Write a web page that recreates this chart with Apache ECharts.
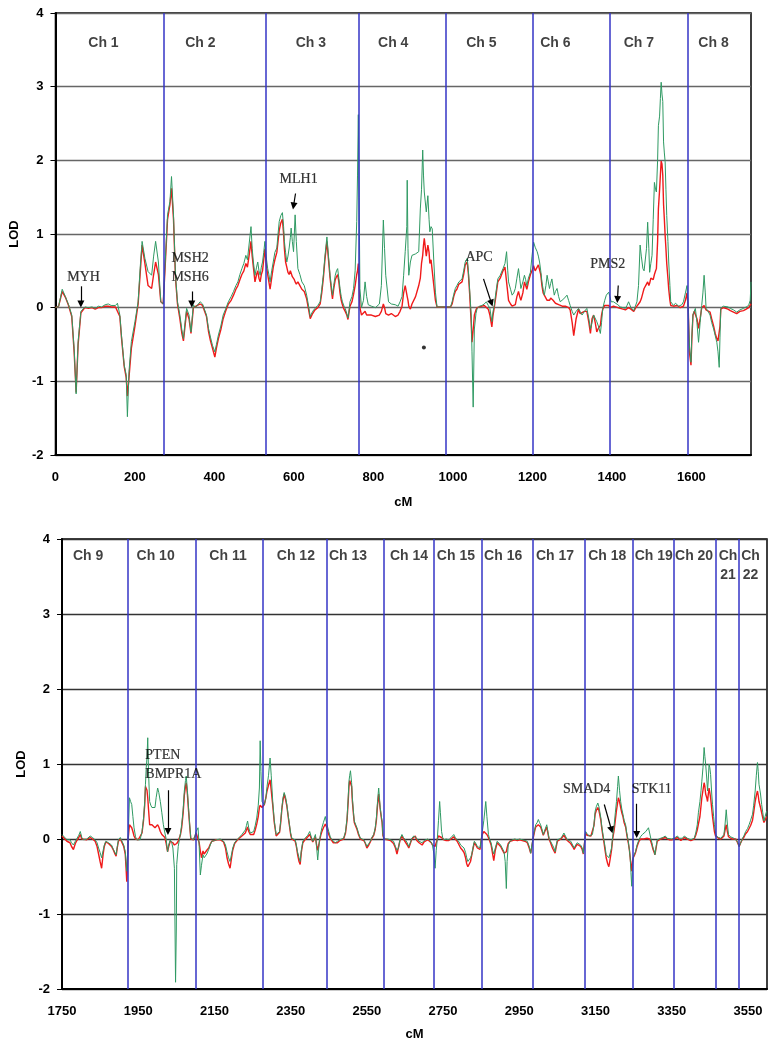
<!DOCTYPE html>
<html><head><meta charset="utf-8">
<script src="https://cdn.jsdelivr.net/npm/echarts@6/dist/echarts.min.js"></script>
<style>html,body{margin:0;padding:0;background:#fff}#c{width:778px;height:1050px}</style>
</head><body><div id="c"></div>
<script>
// ---- DATA ----
// each row: [cM, green LOD, red LOD]
const topProfile = [
[0,0.00,0.00],[8,0.02,0.02],[17,0.25,0.22],[25,0.15,0.14],[33,0.04,0.03],[41,-0.10,-0.12],[47,-0.55,-0.60],[52,-1.17,-1.15],[57,-0.46,-0.50],[64,-0.05,-0.07],
[74,0.01,0.00],[83,0.00,-0.01],[92,0.01,0.00],[100,-0.01,-0.02],[108,0.02,0.00],[116,0.01,0.00],[125,0.04,0.02],[133,0.05,0.02],[140,0.03,0.01],[145,0.05,0.02],
[151,0.03,0.01],[156,0.06,0.02],[162,-0.10,-0.12],[166,-0.37,-0.40],[173,-0.78,-0.80],[178,-0.91,-0.95],[181,-1.48,-1.20],[185,-0.87,-0.95],[191,-0.46,-0.55],[200,-0.19,-0.25],
[208,0.08,0.05],[213,0.53,0.45],[218,0.90,0.85],[225,0.67,0.60],[233,0.49,0.30],[242,0.44,0.26],[247,0.70,0.45],[252,0.90,0.62],[259,0.62,0.45],[265,0.08,0.08],
[271,0.05,0.05],[275,0.49,0.45],[282,1.26,1.20],[288,1.44,1.40],[292,1.78,1.62],[297,1.26,1.20],[302,0.44,0.40],[307,0.08,0.05],[313,-0.10,-0.15],[318,-0.30,-0.35],
[322,-0.42,-0.45],[326,-0.20,-0.25],[330,-0.01,-0.05],[336,-0.10,-0.15],[341,-0.33,-0.35],[347,0.04,0.00],[352,0.00,-0.02],[364,0.08,0.05],[370,0.05,0.03],[375,0.04,0.02],
[380,-0.10,-0.12],[385,-0.28,-0.32],[390,-0.40,-0.45],[395,-0.51,-0.55],[401,-0.60,-0.67],[405,-0.50,-0.55],[410,-0.37,-0.42],[416,-0.25,-0.30],[422,-0.10,-0.15],[428,-0.02,-0.05],
[435,0.08,0.05],[442,0.15,0.10],[448,0.22,0.17],[454,0.30,0.25],[459,0.35,0.30],[464,0.45,0.38],[469,0.53,0.45],[474,0.60,0.50],[479,0.71,0.60],[483,0.65,0.55],
[487,0.85,0.70],[492,1.10,0.90],[495,0.80,0.70],[498,0.62,0.55],[502,0.44,0.35],[506,0.55,0.45],[509,0.62,0.50],[512,0.50,0.40],[515,0.44,0.35],[518,0.55,0.45],
[521,0.62,0.50],[524,0.75,0.65],[527,0.90,0.80],[530,0.70,0.60],[534,0.53,0.45],[537,0.45,0.35],[540,0.35,0.25],[544,0.50,0.40],[548,0.62,0.55],[552,0.75,0.65],
[557,0.81,0.75],[560,1.00,0.90],[563,1.17,1.05],[567,1.25,1.15],[571,1.29,1.20],[574,1.10,1.00],[576,0.90,0.80],[579,0.75,0.62],[582,0.62,0.55],[585,0.70,0.48],
[588,0.81,0.45],[591,0.95,0.50],[593,1.08,0.48],[596,0.90,0.42],[599,0.76,0.40],[601,1.00,0.38],[603,1.26,0.35],[606,0.90,0.32],[610,0.53,0.35],[615,0.45,0.30],
[620,0.35,0.25],[626,0.30,0.22],[632,0.17,0.12],[636,0.05,0.00],[641,-0.12,-0.15],[647,-0.05,-0.08],[653,-0.01,-0.03],[660,0.03,0.00],[666,0.08,0.05],[670,0.25,0.20],
[674,0.44,0.40],[678,0.70,0.65],[683,0.96,0.90],[687,0.70,0.65],[691,0.44,0.40],[694,0.30,0.25],[697,0.17,0.12],[700,0.30,0.25],[704,0.44,0.38],[707,0.50,0.42],
[710,0.53,0.45],[713,0.40,0.35],[716,0.26,0.20],[719,0.15,0.10],[722,0.08,0.04],[726,0.02,-0.02],[729,-0.01,-0.05],[733,-0.08,-0.10],[736,-0.14,-0.16],[739,-0.02,-0.05],
[741,0.08,0.02],[746,0.15,0.08],[750,0.26,0.18],[754,0.50,0.30],[758,1.17,0.45],[760,1.80,0.50],[762,2.62,0.60],[764,1.50,0.30],[766,0.26,0.00],[770,0.00,-0.10],
[775,0.10,-0.08],[779,0.35,-0.05],[783,0.15,-0.10],[787,0.04,-0.08],[795,0.02,-0.10],[805,0.00,-0.12],[815,0.05,-0.10],[820,0.30,-0.05],[825,1.19,0.05],[828,0.80,0.00],
[831,0.44,-0.08],[838,0.08,-0.10],[845,0.05,-0.08],[855,0.04,-0.12],[862,0.02,-0.10],[867,0.08,-0.05],[872,0.15,0.02],[876,0.44,0.20],[880,0.76,0.30],[884,1.10,0.18],
[885,1.73,0.15],[887,0.80,0.10],[889,0.44,0.02],[893,0.62,-0.02],[897,0.71,0.05],[906,0.73,0.15],[914,0.76,0.30],[918,1.34,0.40],[921,1.60,0.60],[924,2.14,0.71],
[926,1.80,0.85],[928,1.57,0.94],[933,1.30,0.70],[937,1.52,0.85],[940,1.20,0.75],[942,1.03,0.60],[945,1.10,0.65],[948,1.07,0.50],[952,0.62,0.30],[956,0.21,0.10],
[960,0.01,0.01],[973,0.01,0.01],[985,0.01,0.01],[994,0.01,0.01],[998,0.08,0.05],[1002,0.18,0.15],[1006,0.26,0.22],[1010,0.30,0.25],[1015,0.35,0.32],[1019,0.33,0.30],
[1023,0.39,0.35],[1027,0.50,0.45],[1031,0.62,0.58],[1036,0.67,0.62],[1039,0.50,0.45],[1042,0.26,0.20],[1046,-0.10,-0.20],[1048,-0.60,-0.47],[1051,-1.35,-0.30],[1054,-0.29,-0.10],
[1058,-0.08,-0.03],[1061,-0.01,0.00],[1067,0.02,0.01],[1073,0.03,0.02],[1079,0.05,0.03],[1084,0.08,0.03],[1089,0.03,-0.02],[1093,-0.01,-0.10],[1098,-0.19,-0.26],[1101,-0.05,-0.10],
[1104,0.03,0.00],[1108,0.20,0.15],[1113,0.39,0.35],[1119,0.44,0.40],[1126,0.53,0.50],[1131,0.60,0.55],[1135,0.76,0.57],[1138,0.50,0.20],[1140,0.35,0.10],[1145,0.25,0.05],
[1149,0.17,0.02],[1153,0.20,0.00],[1157,0.26,0.04],[1161,0.40,0.15],[1165,0.53,0.22],[1168,0.40,0.15],[1171,0.26,0.10],[1176,0.35,0.20],[1180,0.44,0.35],[1183,0.38,0.30],
[1186,0.30,0.25],[1190,0.40,0.35],[1195,0.48,0.45],[1199,0.70,0.50],[1203,0.89,0.57],[1207,0.82,0.50],[1212,0.76,0.55],[1215,0.70,0.58],[1218,0.62,0.60],[1221,0.50,0.45],
[1224,0.35,0.30],[1227,0.25,0.20],[1230,0.17,0.17],[1234,0.30,0.15],[1237,0.44,0.10],[1240,0.35,0.08],[1243,0.26,0.10],[1246,0.33,0.13],[1249,0.39,0.15],[1252,0.28,0.10],
[1255,0.17,0.08],[1258,0.22,0.06],[1262,0.26,0.08],[1266,0.15,0.04],[1270,0.08,0.03],[1275,0.10,0.02],[1279,0.12,0.03],[1283,0.14,0.02],[1287,0.17,0.01],[1291,0.10,0.00],
[1295,0.03,-0.03],[1300,-0.05,-0.20],[1304,-0.10,-0.38],[1310,-0.05,-0.15],[1316,-0.01,-0.02],[1320,-0.05,-0.08],[1325,-0.10,-0.10],[1331,-0.05,-0.05],[1337,-0.01,-0.05],[1342,-0.15,-0.20],
[1346,-0.29,-0.35],[1350,-0.20,-0.15],[1354,-0.10,-0.10],[1358,-0.12,-0.20],[1362,-0.19,-0.33],[1366,-0.25,-0.28],[1371,-0.35,-0.24],[1374,-0.20,-0.10],[1377,-0.01,-0.02],[1382,0.10,0.03],
[1386,0.17,0.04],[1392,0.21,0.03],[1395,0.15,0.00],[1398,0.08,0.00],[1404,0.08,0.02],[1409,0.08,0.01],[1415,0.04,0.00],[1421,0.01,-0.01],[1428,0.00,-0.02],[1434,-0.01,-0.03],
[1438,0.03,-0.01],[1442,0.08,0.00],[1448,0.00,-0.02],[1455,-0.04,-0.05],[1459,0.02,-0.01],[1463,0.08,0.02],[1467,0.30,0.05],[1471,0.85,0.08],[1474,0.70,0.12],[1478,0.53,0.20],
[1481,0.50,0.26],[1484,0.48,0.28],[1487,0.80,0.32],[1490,1.16,0.35],[1493,0.80,0.30],[1495,0.48,0.33],[1498,0.60,0.40],[1501,0.71,0.40],[1504,1.20,0.38],[1507,1.70,0.45],
[1510,1.60,0.50],[1512,1.57,0.53],[1515,2.00,0.90],[1517,2.47,1.34],[1520,2.60,1.60],[1522,2.84,1.80],[1524,3.06,1.99],[1526,2.90,1.95],[1528,2.80,1.80],[1530,2.25,1.40],
[1532,2.10,1.20],[1534,1.98,0.98],[1536,1.60,0.80],[1538,1.25,0.60],[1541,0.90,0.40],[1543,0.62,0.25],[1546,0.30,0.10],[1548,0.08,0.03],[1555,0.03,0.02],[1560,0.06,0.03],
[1564,0.05,0.03],[1568,0.02,0.01],[1572,0.01,0.00],[1576,0.04,0.01],[1580,0.08,0.02],[1585,0.20,0.10],[1589,0.30,0.20],[1592,0.00,0.00],[1595,-0.51,-0.60],[1599,-0.74,-0.78],
[1601,-0.40,-0.45],[1604,-0.10,-0.10],[1607,-0.05,-0.05],[1610,-0.01,-0.05],[1614,-0.20,-0.15],[1618,-0.47,-0.28],[1622,-0.20,-0.15],[1626,0.03,0.00],[1629,0.20,0.02],[1632,0.44,0.03],
[1635,0.20,0.01],[1637,-0.01,-0.03],[1642,-0.05,-0.05],[1647,-0.10,-0.06],[1651,-0.20,-0.15],[1656,-0.29,-0.25],[1660,-0.38,-0.35],[1664,-0.47,-0.42],[1667,-0.60,-0.45],[1670,-0.81,-0.47],
[1672,-0.40,-0.25],[1674,-0.01,-0.02],[1680,0.02,0.00],[1685,0.03,0.00],[1692,0.01,-0.02],[1698,-0.01,-0.04],[1706,-0.03,-0.06],[1714,-0.06,-0.08],[1722,-0.03,-0.05],[1731,-0.01,-0.04],
[1738,0.01,-0.02],[1744,0.03,0.00],[1748,0.10,0.02],[1750,0.35,0.05]
];
const bottomProfile = [
[1750,0.06,0.04],[1754,0.06,0.03],[1763,-0.01,-0.03],[1771,-0.01,-0.05],[1775,-0.05,-0.10],[1780,-0.08,-0.14],[1785,-0.03,-0.06],[1789,-0.01,-0.02],[1794,0.05,0.02],[1798,0.10,0.06],
[1802,0.02,0.00],[1806,-0.01,-0.02],[1815,0.00,-0.01],[1824,0.04,0.02],[1830,0.02,0.00],[1837,-0.01,-0.03],[1842,-0.05,-0.10],[1846,-0.12,-0.20],[1850,-0.18,-0.30],[1854,-0.25,-0.39],
[1858,-0.15,-0.20],[1861,-0.08,-0.10],[1865,-0.03,-0.04],[1868,-0.01,-0.02],[1872,-0.05,-0.06],[1876,-0.03,-0.05],[1880,-0.08,-0.10],[1885,-0.14,-0.15],[1889,-0.18,-0.20],[1892,-0.21,-0.23],
[1895,-0.10,-0.12],[1898,-0.01,-0.03],[1903,0.02,0.00],[1907,0.01,-0.01],[1912,-0.08,-0.10],[1916,-0.17,-0.20],[1918,-0.30,-0.38],[1920,-0.43,-0.57],[1922,-0.20,-0.30],[1924,0.06,0.02],
[1927,0.55,0.19],[1930,0.50,0.18],[1933,0.46,0.15],[1936,0.30,0.10],[1939,0.15,0.04],[1943,0.03,0.00],[1946,-0.01,-0.01],[1950,-0.01,-0.01],[1955,-0.01,-0.01],[1960,0.10,0.08],
[1964,0.28,0.25],[1967,0.50,0.45],[1969,0.73,0.70],[1971,0.95,0.72],[1973,1.08,0.65],[1975,1.35,0.55],[1977,0.90,0.40],[1980,0.50,0.19],[1983,0.45,0.19],[1986,0.42,0.19],
[1990,0.42,0.17],[1994,0.42,0.15],[1997,0.55,0.17],[2001,0.68,0.19],[2004,0.62,0.16],[2008,0.50,0.10],[2012,0.35,0.06],[2016,0.19,0.04],[2020,0.08,0.02],[2023,0.01,-0.05],
[2027,-0.17,-0.17],[2030,-0.08,-0.10],[2034,-0.01,-0.03],[2038,-0.05,-0.02],[2041,-0.12,-0.05],[2045,-0.39,-0.08],[2048,-1.91,-0.10],[2050,-1.20,-0.08],[2051,-0.34,-0.06],[2055,-0.10,-0.03],
[2058,-0.01,-0.01],[2061,0.08,0.06],[2064,0.19,0.15],[2068,0.40,0.35],[2071,0.64,0.58],[2074,0.78,0.70],[2076,0.84,0.75],[2079,0.65,0.60],[2082,0.42,0.38],[2085,0.20,0.18],
[2088,0.01,0.00],[2092,-0.01,-0.01],[2095,-0.01,-0.01],[2099,0.05,0.03],[2102,0.10,0.08],[2107,0.15,0.10],[2110,-0.10,-0.05],[2113,-0.48,-0.16],[2116,-0.35,-0.25],[2120,-0.21,-0.16],
[2123,-0.25,-0.20],[2126,-0.23,-0.18],[2130,-0.20,-0.15],[2135,-0.14,-0.12],[2139,-0.08,-0.07],[2143,-0.03,-0.03],[2150,-0.02,-0.02],[2156,-0.01,-0.01],[2165,0.00,-0.01],[2174,-0.03,-0.04],
[2179,-0.08,-0.12],[2183,-0.17,-0.25],[2187,-0.25,-0.33],[2191,-0.30,-0.39],[2195,-0.20,-0.25],[2198,-0.12,-0.15],[2203,-0.05,-0.06],[2209,-0.01,-0.02],[2215,0.02,0.01],[2222,0.06,0.04],
[2227,0.08,0.06],[2231,0.12,0.08],[2234,0.18,0.12],[2237,0.24,0.16],[2240,0.15,0.10],[2244,0.08,0.06],[2249,0.09,0.05],[2253,0.10,0.06],[2257,0.18,0.12],[2261,0.28,0.20],
[2265,0.45,0.30],[2268,0.68,0.42],[2270,1.31,0.45],[2272,0.90,0.44],[2275,0.50,0.42],[2278,0.48,0.44],[2281,0.46,0.46],[2285,0.55,0.55],[2288,0.70,0.64],[2292,0.85,0.72],
[2296,1.08,0.79],[2299,0.85,0.65],[2303,0.50,0.45],[2307,0.25,0.22],[2312,0.06,0.04],[2317,0.08,0.06],[2321,0.10,0.09],[2324,0.25,0.22],[2327,0.42,0.40],[2330,0.55,0.52],
[2333,0.62,0.60],[2337,0.55,0.52],[2340,0.46,0.44],[2344,0.30,0.28],[2347,0.19,0.17],[2350,0.08,0.06],[2353,0.01,0.00],[2358,-0.01,-0.02],[2362,-0.01,-0.03],[2365,-0.08,-0.10],
[2368,-0.17,-0.20],[2372,-0.25,-0.30],[2375,-0.30,-0.34],[2378,-0.15,-0.18],[2382,-0.03,-0.05],[2386,0.00,-0.02],[2391,0.01,0.00],[2395,0.05,0.03],[2400,0.10,0.06],[2404,0.03,0.01],
[2408,-0.03,-0.04],[2412,0.02,0.00],[2415,0.06,0.03],[2418,-0.10,-0.08],[2421,-0.28,-0.15],[2424,-0.10,-0.08],[2426,-0.01,-0.02],[2429,0.08,0.05],[2432,0.15,0.10],[2436,0.22,0.15],
[2441,0.30,0.20],[2445,0.20,0.15],[2450,0.10,0.06],[2454,0.03,0.01],[2458,-0.01,-0.02],[2462,-0.03,-0.05],[2467,-0.05,-0.07],[2473,-0.03,-0.05],[2479,-0.01,-0.02],[2484,0.00,-0.01],
[2489,0.01,0.00],[2494,0.10,0.08],[2498,0.28,0.25],[2501,0.55,0.50],[2503,0.77,0.70],[2505,0.85,0.78],[2507,0.91,0.80],[2510,0.75,0.70],[2512,0.55,0.50],[2515,0.35,0.32],
[2517,0.24,0.22],[2520,0.20,0.18],[2524,0.15,0.13],[2528,0.08,0.06],[2533,0.01,0.00],[2537,0.00,-0.01],[2542,-0.01,-0.02],[2546,-0.05,-0.06],[2550,-0.10,-0.12],[2555,-0.06,-0.08],
[2559,-0.03,-0.04],[2563,0.02,0.01],[2568,0.06,0.05],[2572,0.15,0.13],[2575,0.28,0.25],[2578,0.50,0.45],[2581,0.68,0.60],[2583,0.55,0.50],[2585,0.42,0.40],[2588,0.30,0.28],
[2590,0.24,0.22],[2592,0.06,0.05],[2595,0.00,0.00],[2598,-0.01,-0.01],[2605,0.00,-0.01],[2612,-0.01,-0.02],[2616,-0.02,-0.04],[2620,-0.03,-0.06],[2625,-0.10,-0.12],[2629,-0.15,-0.20],
[2633,-0.12,-0.19],[2637,0.00,-0.02],[2642,0.06,0.04],[2646,0.02,0.00],[2651,-0.01,-0.02],[2656,-0.05,-0.08],[2660,-0.10,-0.12],[2664,-0.05,-0.06],[2668,0.01,0.00],[2673,0.04,0.02],
[2677,0.06,0.04],[2681,0.01,-0.02],[2687,-0.03,-0.05],[2691,-0.04,-0.07],[2695,-0.05,-0.08],[2700,-0.02,-0.04],[2704,-0.01,-0.02],[2710,0.00,-0.01],[2715,-0.01,-0.02],[2719,-0.04,-0.05],
[2722,-0.08,-0.08],[2726,-0.20,-0.10],[2729,-0.39,-0.10],[2732,-0.15,-0.05],[2735,0.01,0.00],[2738,0.25,0.04],[2741,0.50,0.06],[2743,0.35,0.05],[2746,0.10,0.02],[2749,0.02,0.00],
[2752,-0.01,-0.01],[2758,0.00,-0.02],[2765,-0.01,-0.02],[2771,0.02,0.00],[2778,0.06,0.03],[2782,0.02,0.00],[2787,-0.01,-0.03],[2792,-0.04,-0.08],[2796,-0.08,-0.12],[2801,-0.10,-0.15],
[2805,-0.12,-0.18],[2809,-0.18,-0.25],[2812,-0.25,-0.33],[2815,-0.30,-0.37],[2818,-0.30,-0.39],[2822,-0.25,-0.30],[2825,-0.21,-0.22],[2829,-0.10,-0.12],[2832,-0.03,-0.05],[2836,-0.06,-0.08],
[2840,-0.10,-0.12],[2844,-0.11,-0.13],[2847,-0.12,-0.14],[2850,0.00,-0.02],[2853,0.10,0.06],[2857,0.25,0.10],[2860,0.40,0.12],[2862,0.50,0.10],[2865,0.30,0.06],[2869,0.06,0.02],
[2872,0.00,-0.02],[2876,-0.05,-0.08],[2880,-0.15,-0.20],[2883,-0.20,-0.29],[2887,-0.12,-0.15],[2892,-0.03,-0.05],[2896,-0.05,-0.07],[2901,-0.08,-0.10],[2905,-0.10,-0.14],[2910,-0.17,-0.19],
[2913,-0.30,-0.18],[2916,-0.66,-0.17],[2918,-0.30,-0.12],[2921,-0.08,-0.06],[2926,-0.03,-0.03],[2932,-0.01,-0.02],[2938,0.00,-0.01],[2945,-0.01,-0.02],[2951,0.00,-0.01],[2958,-0.01,-0.02],
[2965,-0.02,-0.03],[2971,-0.03,-0.05],[2976,-0.10,-0.12],[2980,-0.19,-0.19],[2983,-0.08,-0.10],[2986,0.01,0.00],[2990,0.12,0.10],[2993,0.19,0.16],[2997,0.22,0.18],[3000,0.26,0.19],
[3003,0.22,0.18],[3006,0.19,0.16],[3010,0.12,0.10],[3013,0.06,0.05],[3017,0.12,0.10],[3022,0.19,0.16],[3025,0.10,0.08],[3028,0.01,0.00],[3032,-0.03,-0.05],[3037,-0.08,-0.12],
[3041,-0.12,-0.16],[3044,-0.17,-0.19],[3047,-0.08,-0.10],[3050,-0.01,-0.03],[3055,0.00,-0.01],[3059,0.01,0.00],[3063,0.04,0.02],[3067,0.08,0.05],[3072,0.03,0.01],[3076,-0.01,-0.02],
[3080,-0.02,-0.04],[3085,-0.03,-0.06],[3090,-0.08,-0.10],[3094,-0.12,-0.14],[3098,-0.08,-0.10],[3102,-0.05,-0.07],[3106,-0.06,-0.08],[3111,-0.08,-0.10],[3115,-0.12,-0.14],[3118,-0.19,-0.20],
[3121,-0.05,-0.06],[3124,0.10,0.08],[3128,0.07,0.05],[3133,0.04,0.03],[3138,0.05,0.04],[3142,0.06,0.05],[3146,0.20,0.18],[3149,0.37,0.33],[3152,0.43,0.38],[3156,0.48,0.42],
[3159,0.43,0.38],[3161,0.37,0.33],[3164,0.28,0.25],[3166,0.19,0.16],[3169,0.08,0.05],[3172,-0.01,-0.04],[3175,-0.10,-0.15],[3178,-0.21,-0.25],[3182,-0.23,-0.33],[3185,-0.25,-0.37],
[3188,-0.20,-0.28],[3192,-0.12,-0.15],[3195,0.03,0.00],[3199,0.19,0.12],[3202,0.35,0.25],[3205,0.50,0.38],[3208,0.70,0.48],[3210,0.84,0.55],[3213,0.65,0.50],[3216,0.50,0.42],
[3219,0.40,0.35],[3222,0.33,0.30],[3225,0.25,0.22],[3229,0.19,0.16],[3232,0.08,0.06],[3236,-0.03,-0.05],[3239,-0.15,-0.15],[3241,-0.25,-0.25],[3243,-0.45,-0.35],[3245,-0.63,-0.43],
[3247,-0.40,-0.30],[3249,-0.25,-0.25],[3252,-0.20,-0.22],[3255,-0.17,-0.18],[3259,-0.08,-0.10],[3264,-0.01,-0.03],[3268,0.03,0.00],[3273,0.06,0.01],[3277,0.08,0.00],[3282,0.10,0.00],
[3285,0.12,0.01],[3289,0.15,0.02],[3292,0.08,0.00],[3295,0.01,-0.03],[3298,-0.05,-0.08],[3301,-0.12,-0.14],[3304,-0.16,-0.18],[3306,-0.21,-0.21],[3309,-0.10,-0.12],[3312,-0.01,-0.03],
[3316,0.00,-0.01],[3321,0.01,0.00],[3327,0.02,0.01],[3333,0.04,0.02],[3338,0.01,0.00],[3343,-0.01,-0.01],[3350,0.00,-0.01],[3356,0.01,0.00],[3361,0.02,0.01],[3365,0.04,0.02],
[3370,0.01,0.00],[3374,-0.01,-0.02],[3378,0.01,0.00],[3383,0.04,0.02],[3387,0.02,0.01],[3391,0.01,0.00],[3396,0.00,-0.01],[3400,-0.01,-0.02],[3405,0.00,-0.01],[3409,0.01,0.00],
[3413,0.08,0.05],[3417,0.19,0.12],[3420,0.35,0.20],[3424,0.50,0.30],[3427,0.65,0.45],[3429,0.77,0.55],[3432,0.95,0.65],[3435,1.22,0.75],[3437,1.10,0.70],[3439,1.00,0.60],
[3442,0.80,0.55],[3444,0.64,0.50],[3446,0.80,0.60],[3448,1.00,0.68],[3450,0.95,0.62],[3452,0.86,0.55],[3455,0.60,0.40],[3457,0.46,0.30],[3460,0.30,0.18],[3462,0.19,0.10],
[3465,0.08,0.04],[3467,0.04,0.02],[3473,0.02,0.01],[3479,0.01,0.00],[3483,0.02,0.01],[3487,0.06,0.04],[3490,0.20,0.12],[3493,0.39,0.19],[3496,0.20,0.10],[3499,0.06,0.03],
[3504,0.03,0.01],[3508,0.01,0.00],[3513,0.01,0.00],[3518,0.01,0.00],[3522,-0.03,-0.04],[3527,-0.10,-0.10],[3531,-0.05,-0.05],[3536,0.01,0.00],[3540,0.05,0.03],[3544,0.10,0.07],
[3549,0.14,0.10],[3553,0.19,0.14],[3557,0.25,0.18],[3562,0.33,0.25],[3565,0.45,0.35],[3569,0.64,0.50],[3572,0.85,0.58],[3575,1.02,0.64],[3577,0.90,0.58],[3579,0.73,0.50],
[3583,0.60,0.42],[3586,0.46,0.35],[3589,0.35,0.28],[3592,0.24,0.22],[3595,0.30,0.25],[3599,0.37,0.30]
];
const topBoundaries = [273, 529, 762, 982, 1200, 1394, 1592];
const bottomBoundaries = [1922, 2100, 2277, 2445, 2593, 2726, 2852, 2986, 3123, 3247, 3354, 3466, 3527];
const topChrNames = ['Ch 1','Ch 2','Ch 3','Ch 4','Ch 5','Ch 6','Ch 7','Ch 8'];
const topChrCenters = [122, 366, 644, 851, 1073, 1259, 1469, 1657];
const bottomChrNames = ['Ch 9','Ch 10','Ch 11','Ch 12','Ch 13','Ch 14','Ch 15','Ch 16','Ch 17','Ch 18','Ch 19','Ch 20','Ch\n21','Ch\n22'];
const bottomChrCenters = [1820, 1997, 2187, 2365, 2502, 2662, 2785, 2909, 3045, 3182, 3304, 3410, 3499, 3558];
const topGeneNames = ['MYH', 'MSH2\nMSH6', 'MLH1', 'APC', 'PMS2'];
const topGeneLabelAt = [[72,0.41],[340,0.53],[613,1.73],[1067,0.67],[1391,0.58]];
const topGeneArrows = [[[64,0.29],[64,0.05]],[[343,0.22],[343,0.05]],[[604,1.55],[599,1.38]],[[1077,0.39],[1097,0.06]],[[1416,0.30],[1414,0.11]]];
const bottomGeneNames = ['PTEN\nBMPR1A', 'SMAD4', 'STK11'];
const bottomGeneLabelAt = [[1970,0.98],[3128,0.65],[3299,0.65]];
const bottomGeneArrows = [[[2028,0.65],[2028,0.10]],[[3173,0.46],[3192,0.12]],[[3258,0.47],[3258,0.06]]];
const strayPoint = [[927,-0.54]];
const topXTicks = [0,200,400,600,800,1000,1200,1400,1600];
const bottomXTicks = [1750,1950,2150,2350,2550,2750,2950,3150,3350,3550];

// ---- CHART ----
const SANS = "'Liberation Sans', Arial, sans-serif";
const SERIF = "'Liberation Serif', 'Times New Roman', serif";
const GREEN = '#2f9a63', RED = '#f01a1a', BLUE = '#3434c6';

function yAx(gi, gridColor, gap){
  return {gridIndex:gi, type:'value', min:-2, max:4, interval:1,
    axisLine:{show:true, lineStyle:{color:'#000', width:2}},
    axisTick:{show:true, length:5, lineStyle:{color:'#000', width:1}},
    axisLabel:{color:'#000', fontFamily:SANS, fontWeight:'bold', fontSize:13, margin:12},
    splitLine:{show:true, lineStyle:{color:gridColor, width:1.3}},
    name:'LOD', nameLocation:'middle', nameGap:gap, nameRotate:90,
    nameTextStyle:{color:'#000', fontFamily:SANS, fontWeight:'bold', fontSize:13}};
}
function xAx(gi, mn, mx, ticks, gap){
  return {gridIndex:gi, type:'value', min:mn, max:mx,
    axisLine:{show:true, onZero:false, lineStyle:{color:'#000', width:2}},
    axisTick:{show:false},
    axisLabel:{color:'#000', fontFamily:SANS, fontWeight:'bold', fontSize:13, margin:16, customValues:ticks,
      formatter:v=>String(v)},
    splitLine:{show:false},
    name:'cM', nameLocation:'middle', nameGap:gap,
    nameTextStyle:{color:'#000', fontFamily:SANS, fontWeight:'bold', fontSize:13}};
}
function panelSeries(i, profile, bounds, chrNames, chrCenters, chrY, chrLH, genes, geneAt, arrows){
  const s = [];
  s.push({type:'line', xAxisIndex:i, yAxisIndex:i, data:profile.map(r=>[r[0], r[2]]),
    symbol:'none', lineStyle:{color:RED, width:1.4}, z:3, silent:true,
    markLine:{silent:true, symbol:'none', label:{show:false}, animation:false,
      lineStyle:{color:BLUE, width:1.5, type:'solid'}, data:bounds.map(v=>({xAxis:v}))}});
  s.push({type:'line', xAxisIndex:i, yAxisIndex:i, data:profile.map(r=>[r[0], r[1]]),
    symbol:'none', lineStyle:{color:GREEN, width:1}, z:4, silent:true});
  s.push({type:'scatter', xAxisIndex:i, yAxisIndex:i, symbolSize:1, itemStyle:{color:'rgba(0,0,0,0)'}, z:6, silent:true,
    data:chrNames.map((n,k)=>({name:n, value:[chrCenters[k], chrY]})),
    label:{show:true, position:[0,0], formatter:'{b}', align:'center', verticalAlign:'top',
      color:'#111', fontFamily:SANS, fontWeight:'bold', fontSize:14, lineHeight:chrLH}});
  s.push({type:'scatter', xAxisIndex:i, yAxisIndex:i, symbolSize:1, itemStyle:{color:'rgba(0,0,0,0)'}, z:7, silent:true,
    data:genes.map((n,k)=>({name:n, value:geneAt[k]})),
    label:{show:true, position:[0,0], formatter:'{b}', align:'center', verticalAlign:'middle',
      color:'#000', fontFamily:SERIF, fontSize:14, lineHeight:19, textBorderColor:'#000', textBorderWidth:0.2},
    markLine:{silent:true, animation:false, symbol:['none','triangle'], symbolSize:7, label:{show:false},
      lineStyle:{color:'#000', width:1.2, type:'solid'}, itemStyle:{color:'#000'},
      data:arrows.map(a=>[{coord:a[0]},{coord:a[1]}])}});
  return s;
}

const chart = echarts.init(document.getElementById('c'), null, {renderer:'canvas'});
const series = [].concat(
  panelSeries(0, topProfile, topBoundaries, topChrNames, topChrCenters, 3.69, 16, topGeneNames, topGeneLabelAt, topGeneArrows),
  panelSeries(1, bottomProfile, bottomBoundaries, bottomChrNames, bottomChrCenters, 3.885, 19, bottomGeneNames, bottomGeneLabelAt, bottomGeneArrows)
);
// left-align the PTEN / BMPR1A block
series[7].data[0].label = {align:'left'};
series.push({type:'scatter', xAxisIndex:0, yAxisIndex:0, data:strayPoint, symbolSize:4, itemStyle:{color:'#000'}, z:8, silent:true});

chart.setOption({
  animation:false,
  backgroundColor:'#fff',
  grid:[
    {left:55, top:13, width:696, height:442, show:true, borderColor:'#000', borderWidth:1.5, backgroundColor:'transparent'},
    {left:62, top:539, width:705, height:450, show:true, borderColor:'#000', borderWidth:1.5, backgroundColor:'transparent'}
  ],
  xAxis:[xAx(0, 0, 1750, topXTicks, 41), xAx(1, 1750, 3600, bottomXTicks, 39)],
  yAxis:[yAx(0, '#666', 28), yAx(1, '#333', 33)],
  series:series
});
</script></body></html>
